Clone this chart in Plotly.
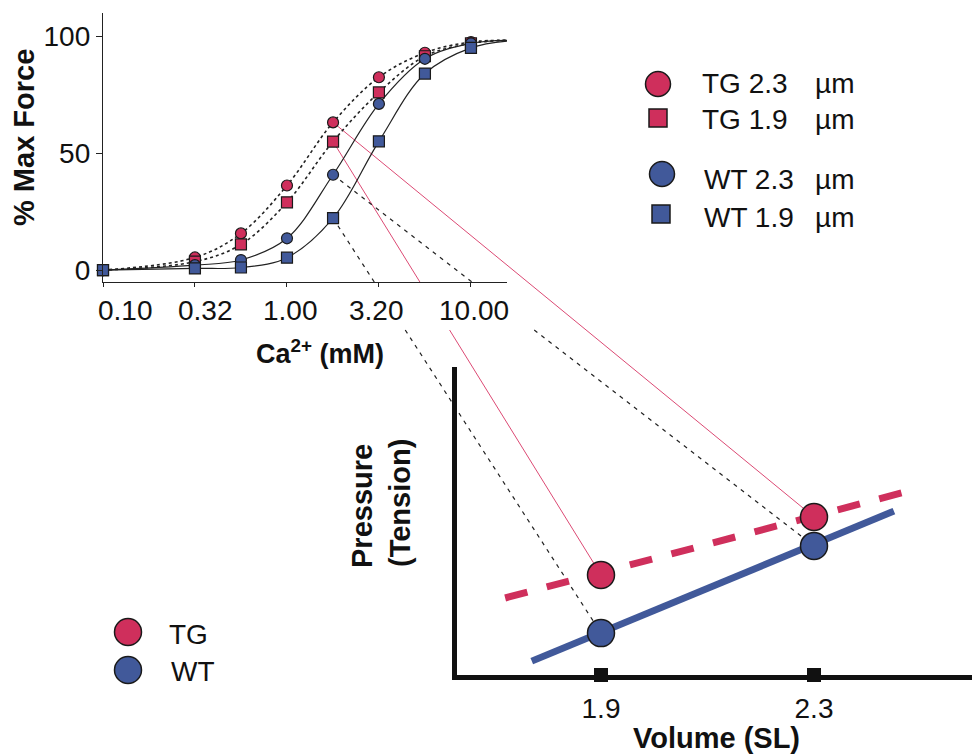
import math
import plotly.graph_objects as go

# page is shown with the browser's 8px body margin, so the figure is laid out
# in screen pixels and shifted by that margin
OFF = 8
W, H = 980 - OFF, 754 - OFF

# ---------------- data: force–Ca2+ panel ----------------
CA = [0.1, 0.316, 0.562, 1.0, 1.78, 3.16, 5.62, 10.0]
CURVE_END_CA = 15.7
TG_23 = [0.0, 5.4, 15.7, 36.2, 63.2, 82.5, 93.0, 97.6]
TG_19 = [0.0, 3.6, 11.0, 29.0, 55.0, 76.0, 91.5, 97.0]
WT_23 = [0.0, 2.1, 4.3, 13.6, 40.8, 71.1, 90.4, 97.0]
WT_19 = [0.0, 0.7, 1.1, 5.3, 22.2, 55.1, 84.1, 95.1]
CURVE_END = [98.3, 98.3, 98.3, 98.0]          # TG2.3, TG1.9, WT2.3, WT1.9 at CURVE_END_CA
CA_TICKS = [0.1, 0.316, 1.0, 3.16, 10.0]
CA_TICK_LABELS = ["0.10", "0.32", "1.00", "3.20", "10.00"]
FORCE_TICKS = [0, 50, 100]
LINK_CA = 1.78                                  # concentration projected onto lower panel

# ---------------- data: pressure–volume panel ----------------
SL = [1.9, 2.3]
TG_P = [3.25, 5.13]
WT_P = [1.36, 4.19]
TG_FIT_SL = [1.72, 2.477]
TG_FIT_P = [2.50, 5.97]
WT_FIT_SL = [1.770, 2.450]
WT_FIT_P = [0.45, 5.32]
SL_TICKS = [1.9, 2.3]
SL_TICK_LABELS = ["1.9", "2.3"]

# ---------------- layout geometry (screen pixels) ----------------
TOP_XPX = (103, 507)
TOP_YPX = (282, 13)          # bottom, top
TOP_XR = [-1.0, math.log10(CURVE_END_CA)]
TOP_YR = [-5.1, 110]
BOT_XPX = (457, 980)
BOT_YPX = (675, 367)
PX_PER_SL = (814 - 601) / (SL[1] - SL[0])
BOT_XR = [SL[0] - (601 - BOT_XPX[0]) / PX_PER_SL, SL[1] + (BOT_XPX[1] - 814) / PX_PER_SL]
BOT_YR = [0, 10]
GAP_END_PX = 330
CA_LABEL_SHIFT = [22, 11, 4, -2, 3]     # label offsets seen in the original artwork

RED = "#cf2f5c"
BLUE = "#41599a"
EDGE = "#1a1a1a"
FONT = "Liberation Sans, Arial, sans-serif"
REG = 28
BOLD = 29


def px_x(sx):
    return (sx - OFF) / W


def px_y(sy):
    return 1 - (sy - OFF) / H


def top_to_px(ca, f):
    fx = (math.log10(ca) - TOP_XR[0]) / (TOP_XR[1] - TOP_XR[0])
    fy = (f - TOP_YR[0]) / (TOP_YR[1] - TOP_YR[0])
    return TOP_XPX[0] + fx * (TOP_XPX[1] - TOP_XPX[0]), TOP_YPX[0] + fy * (TOP_YPX[1] - TOP_YPX[0])


def bot_to_px(sl, p):
    fx = (sl - BOT_XR[0]) / (BOT_XR[1] - BOT_XR[0])
    fy = (p - BOT_YR[0]) / (BOT_YR[1] - BOT_YR[0])
    return BOT_XPX[0] + fx * (BOT_XPX[1] - BOT_XPX[0]), BOT_YPX[0] + fy * (BOT_YPX[1] - BOT_YPX[0])


fig = go.Figure()

# ---- connecting projection lines (overlay axes x/y in screen pixels) ----
li = CA.index(LINK_CA)
links = [
    (TG_23[li], SL[1], TG_P[1], "TG"),
    (TG_19[li], SL[0], TG_P[0], "TG"),
    (WT_23[li], SL[1], WT_P[1], "WT"),
    (WT_19[li], SL[0], WT_P[0], "WT"),
]
for f, sl, p, grp in links:
    x0, y0 = top_to_px(LINK_CA, f)
    x1, y1 = bot_to_px(sl, p)
    t = (TOP_YPX[0] - y0) / (y1 - y0)
    xc = x0 + t * (x1 - x0)
    if xc < TOP_XPX[1]:
        tg = (GAP_END_PX - y0) / (y1 - y0)
        xg = x0 + tg * (x1 - x0)
        xs = [x0, xc, None, xg, x1]
        ys = [y0, TOP_YPX[0], None, GAP_END_PX, y1]
    else:
        xs, ys = [x0, x1], [y0, y1]
    if grp == "TG":
        line = dict(color="#dc4a74", width=1)
    else:
        line = dict(color="#222", width=1.2, dash="4px,5px")
    fig.add_trace(go.Scatter(x=xs, y=ys, mode="lines", line=line, xaxis="x", yaxis="y",
                             hoverinfo="skip", showlegend=False))

# ---- legends drawn as markers on overlay ----
legend_marks = [
    (658, 84, "circle", 25, RED),
    (658, 118, "square", 18, RED),
    (662, 174, "circle", 25, BLUE),
    (661, 214, "square", 18, BLUE),
    (128, 632, "circle", 27, RED),
    (128, 670, "circle", 27, BLUE),
]
for lx, ly, sym, sz, col in legend_marks:
    fig.add_trace(go.Scatter(x=[lx], y=[ly], mode="markers", xaxis="x", yaxis="y",
                             marker=dict(symbol=sym, size=sz, color=col, line=dict(color=EDGE, width=1.5)),
                             hoverinfo="skip", showlegend=False, cliponaxis=False))

# ---- top panel curves ----
series = [
    (TG_23, CURVE_END[0], "circle", RED, dict(color="#222", width=1.6, dash="dot")),
    (TG_19, CURVE_END[1], "square", RED, dict(color="#222", width=1.6, dash="dot")),
    (WT_23, CURVE_END[2], "circle", BLUE, dict(color="#222", width=1.2)),
    (WT_19, CURVE_END[3], "square", BLUE, dict(color="#222", width=1.2)),
]
for vals, endv, sym, col, line in series:
    fig.add_trace(go.Scatter(x=CA + [CURVE_END_CA], y=vals + [endv], mode="lines",
                             line=dict(shape="spline", smoothing=1.0, **line),
                             xaxis="x2", yaxis="y2", hoverinfo="skip", showlegend=False, cliponaxis=False))
for vals, endv, sym, col, line in series:
    fig.add_trace(go.Scatter(x=CA, y=vals, mode="markers",
                             marker=dict(symbol=sym, size=11, color=col, line=dict(color=EDGE, width=1.2)),
                             xaxis="x2", yaxis="y2", showlegend=False, cliponaxis=False))

# ---- bottom panel ----
fig.add_trace(go.Scatter(x=TG_FIT_SL, y=TG_FIT_P, mode="lines",
                         line=dict(color=RED, width=7, dash="23px,20px"),
                         xaxis="x3", yaxis="y3", showlegend=False, hoverinfo="skip"))
fig.add_trace(go.Scatter(x=WT_FIT_SL, y=WT_FIT_P, mode="lines",
                         line=dict(color=BLUE, width=7),
                         xaxis="x3", yaxis="y3", showlegend=False, hoverinfo="skip"))
fig.add_trace(go.Scatter(x=SL, y=TG_P, mode="markers",
                         marker=dict(symbol="circle", size=27, color=RED, line=dict(color=EDGE, width=1.5)),
                         xaxis="x3", yaxis="y3", showlegend=False))
fig.add_trace(go.Scatter(x=SL, y=WT_P, mode="markers",
                         marker=dict(symbol="circle", size=27, color=BLUE, line=dict(color=EDGE, width=1.5)),
                         xaxis="x3", yaxis="y3", showlegend=False))
fig.add_trace(go.Scatter(x=SL_TICKS, y=[BOT_YR[0]] * len(SL_TICKS), mode="markers",
                         marker=dict(symbol="square", size=14, color="#111"),
                         xaxis="x3", yaxis="y3", showlegend=False, cliponaxis=False, hoverinfo="skip"))

tickfont = dict(family=FONT, size=REG, color="#111")

fig.update_layout(
    width=W, height=H, autosize=False,
    margin=dict(l=0, r=0, t=0, b=0, pad=0, autoexpand=False),
    paper_bgcolor="white", plot_bgcolor="rgba(0,0,0,0)",
    showlegend=False,
    xaxis=dict(domain=[0, 1], range=[OFF, OFF + W], visible=False, fixedrange=True, automargin=False),
    yaxis=dict(domain=[0, 1], range=[OFF + H, OFF], visible=False, fixedrange=True, automargin=False),
    xaxis2=dict(type="log", domain=[px_x(TOP_XPX[0]), px_x(TOP_XPX[1])], range=TOP_XR, anchor="y2",
                showline=True, linecolor="#222", linewidth=1.3, showgrid=False, zeroline=False,
                ticks="outside", ticklen=4, tickcolor="#222", tickvals=CA_TICKS,
                showticklabels=False, automargin=False),
    yaxis2=dict(domain=[px_y(TOP_YPX[0]), px_y(TOP_YPX[1])], range=TOP_YR, anchor="x2",
                showline=True, linecolor="#222", linewidth=1.3, showgrid=False, zeroline=False,
                ticks="outside", ticklen=6, tickcolor="#222", tickvals=FORCE_TICKS,
                tickfont=tickfont, ticklabelstandoff=0, automargin=False),
    xaxis3=dict(domain=[px_x(BOT_XPX[0]), min(1.0, px_x(BOT_XPX[1]))], range=BOT_XR, anchor="y3",
                showline=True, linecolor="#111", linewidth=5, showgrid=False, zeroline=False,
                ticks="", tickvals=SL_TICKS, ticktext=SL_TICK_LABELS, tickfont=tickfont,
                ticklabelstandoff=4, automargin=False),
    yaxis3=dict(domain=[px_y(BOT_YPX[0]), px_y(BOT_YPX[1])], range=BOT_YR, anchor="x3",
                showline=True, linecolor="#111", linewidth=5, showgrid=False, zeroline=False,
                ticks="", showticklabels=False, automargin=False),
)


def ann(text, x, y, size=REG, bold=False, angle=0, xanchor="center"):
    fig.add_annotation(text=f"<b>{text}</b>" if bold else text, x=px_x(x), y=px_y(y),
                       xref="paper", yref="paper", xanchor=xanchor, yanchor="middle",
                       showarrow=False, textangle=angle,
                       font=dict(family=FONT, size=size, color="#111"))


# top x tick labels (placed on the log axis at the tick values)
for val, lab, dx in zip(CA_TICKS, CA_TICK_LABELS, CA_LABEL_SHIFT):
    fig.add_annotation(text=lab, x=math.log10(val), xref="x2", y=px_y(311), yref="paper",
                       xshift=dx, showarrow=False, xanchor="center", yanchor="middle",
                       font=dict(family=FONT, size=REG, color="#111"))

ann("% Max Force", 24, 138, size=BOLD, bold=True, angle=-90)
ann("Ca<sup>2+</sup> (mM)", 320, 352, size=27, bold=True)
ann("Volume (SL)", 716, 738, size=BOLD, bold=True)
ann("Pressure", 362, 506, size=BOLD, bold=True, angle=-90)
ann("(Tension)", 400, 503, size=BOLD, bold=True, angle=-90)

for label, ly in [("TG 2.3", 84), ("TG 1.9", 120)]:
    ann(label, 700, ly, xanchor="left")
    ann("\u00b5m", 813, ly, xanchor="left")
for label, ly in [("WT 2.3", 180), ("WT 1.9", 217)]:
    ann(label, 702, ly, xanchor="left")
    ann("\u00b5m", 813, ly, xanchor="left")
ann("TG", 167, 634, xanchor="left")
ann("WT", 169, 671, xanchor="left")

fig.write_html("out.html")
